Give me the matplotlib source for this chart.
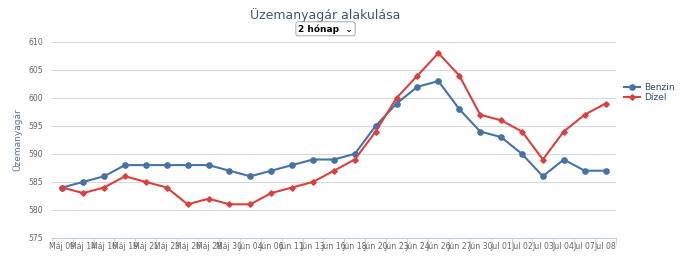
#!/usr/bin/env python3

"""
Fuel price trend (Benzin / Dizel) over two months.
"""

import numpy as np
import matplotlib.pyplot as plt

dates = ["Máj 09", "Máj 14", "Máj 16", "Máj 19", "Máj 21", "Máj 23", "Máj 26",
         "Máj 28", "Máj 30", "Jún 04", "Jún 06", "Jún 11", "Jún 13", "Jún 16",
         "Jún 18", "Jún 20", "Jún 23", "Jún 24", "Jún 26", "Jún 27", "Jún 30",
         "Jul 01", "Jul 02", "Jul 03", "Jul 04", "Jul 07", "Jul 08"]
benzin = [584, 585, 586, 588, 588, 588, 588, 588, 587, 586, 587, 588, 589, 589,
          590, 595, 599, 602, 603, 598, 594, 593, 590, 586, 589, 587, 587]
dizel = [584, 583, 584, 586, 585, 584, 581, 582, 581, 581, 583, 584, 585, 587,
         589, 594, 600, 604, 608, 604, 597, 596, 594, 589, 594, 597, 599]
yticks = [575, 580, 585, 590, 595, 600, 605, 610]

fig = plt.figure(figsize=(7, 2.62), dpi=100)
ax = fig.add_axes([0.074, 0.092, 0.806, 0.748])

x = np.arange(len(dates))
ax.plot(x, benzin, color="#4572A7", lw=1.5, marker="o", ms=3.8, label="Benzin")
ax.plot(x, dizel, color="#DB4040", lw=1.5, marker="D", ms=2.8, label="Dízel")

ax.set_xlim(-0.5, len(dates) - 0.5)
ax.set_ylim(575, 610)
ax.set_yticks(yticks)
ax.set_xticks(x)
ax.set_xticklabels(dates)
ax.tick_params(axis="x", labelsize=5.6, colors="#666666", length=0, pad=3)
ax.tick_params(axis="y", labelsize=5.6, colors="#666666", length=0, pad=6)
ax.set_xticks(np.arange(len(dates) + 1) - 0.5, minor=True)
ax.tick_params(axis="x", which="minor", length=4, color="#C0D0E0")
ax.grid(axis="y", color="#D8D8D8", lw=0.8)
ax.set_axisbelow(True)
for s in ["top", "right", "left"]:
    ax.spines[s].set_visible(False)
ax.spines["bottom"].set_color("#C0D0E0")

ax.set_ylabel("Üzemanyagár", fontsize=6.5, color="#4D759E", labelpad=5)

fig.text(0.465, 0.943, "Üzemanyagár alakulása", ha="center", va="center",
         fontsize=9, color="#3E576F")
fig.text(0.465, 0.89, "2 hónap  ⌄", ha="center", va="center", fontsize=6.5,
         color="black", fontweight="bold",
         bbox=dict(boxstyle="round,pad=0.25", fc="white", ec="#999999", lw=0.6))

ax.legend(loc="upper left", bbox_to_anchor=(1.0, 0.83), frameon=False,
          fontsize=6.5, labelcolor="#274B6D", handlelength=1.8,
          handletextpad=0.4, labelspacing=0.1)

plt.savefig("out.png", dpi=100)
